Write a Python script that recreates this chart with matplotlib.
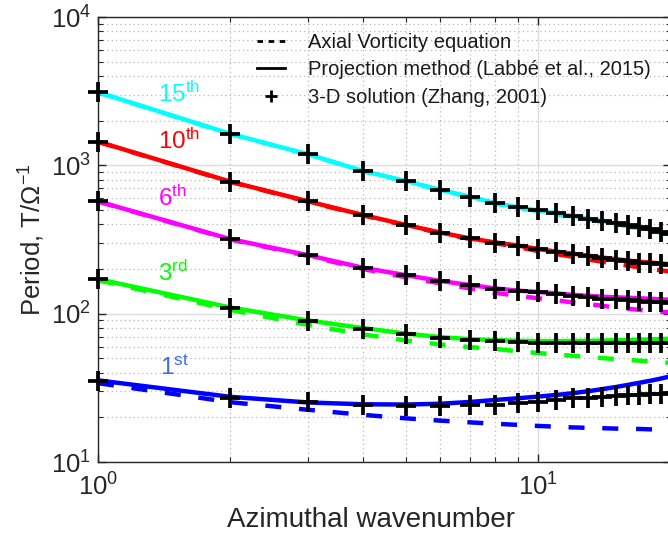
import matplotlib
matplotlib.use("Agg")
import matplotlib.pyplot as plt
from matplotlib.lines import Line2D
from matplotlib.ticker import LogLocator, NullFormatter

plt.rcParams['font.family'] = ['Liberation Sans', 'DejaVu Sans']
plt.rcParams['mathtext.fontset'] = 'custom'
plt.rcParams['mathtext.rm'] = 'Liberation Sans'
plt.rcParams['mathtext.it'] = 'Liberation Sans:italic'
plt.rcParams['mathtext.bf'] = 'Liberation Sans:bold'

# ---------------- data ----------------
m = list(range(1, 21))  # azimuthal wavenumber

# 3-D solution (Zhang, 2001)
zhang_15 = [3110, 1630, 1187, 917, 785, 683, 615, 556, 522, 497, 474, 455, 437, 421, 406, 393, 381, 370, 355, 345]
zhang_10 = [1445, 776, 572, 463, 397, 352, 322, 301, 287, 271, 259, 251, 243, 236, 230, 225, 221, 218, 215, 212]
zhang_6 = [572, 318, 248, 204, 182, 166, 156, 147, 143, 139, 135, 132, 129, 126, 125, 124, 122, 120, 119, 118]
zhang_3 = [171, 109, 89, 79, 72.6, 68.3, 66.2, 65.6, 64.7, 63.8, 63.5, 63.3, 63.2, 63.2, 63.2, 63.2, 63.2, 63.3, 63.4, 63.5]
zhang_1 = [35.2, 27.2, 25.5, 24.2, 24.0, 24.0, 24.3, 24.4, 24.9, 25.5, 26.2, 26.8, 27.2, 27.6, 27.9, 28.2, 28.5, 28.7, 28.9, 29.1]

# Projection method (Labbe et al., 2015)
proj_15 = [3110, 1630, 1187, 917, 785, 683, 615, 556, 522, 497, 474, 455, 437, 421, 406, 393, 381, 370, 357, 347]
proj_10 = [1445, 776, 572, 463, 397, 352, 322, 302, 288, 273, 262, 254, 246, 239, 233, 228, 224, 221, 218, 215]
proj_6 = [572, 318, 248, 204, 182, 166, 156, 148, 143, 140, 137, 134, 132, 130, 129, 128, 127, 126, 125, 124]
proj_3 = [171, 110, 90, 80, 73.5, 69.5, 67.3, 66.3, 65.6, 65.3, 65.3, 65.4, 65.6, 65.8, 66.1, 66.4, 66.7, 67.0, 67.4, 67.8]
proj_1 = [35.5, 27.5, 25.2, 24.5, 24.4, 24.7, 25.4, 26.2, 26.9, 27.6, 28.3, 29.1, 30.0, 31.0, 32.0, 33.1, 34.2, 35.3, 36.5, 37.8]

# Axial vorticity equation
axial_15 = [3100, 1625, 1183, 913, 780, 678, 610, 551, 517, 491, 468, 449, 431, 415, 400, 387, 375, 364, 352, 342]
axial_10 = [1440, 773, 569, 460, 394, 349, 319, 298, 282, 264, 252, 242, 232, 224, 217, 211, 205, 200, 196, 192]
axial_6 = [570, 316, 245, 200, 176, 160, 148, 138, 132, 127, 123, 119, 116, 113, 110, 108, 106, 104, 103, 102]
axial_3 = [168, 106, 84, 72.5, 66, 62, 59.5, 57.8, 55.8, 54.3, 53, 52, 51, 50.2, 49.4, 48.8, 48.2, 47.6, 47.1, 46.6]
axial_1 = [34.0, 25.3, 22.5, 20.8, 19.7, 19.0, 18.5, 18.1, 17.8, 17.5, 17.3, 17.1, 17.0, 16.9, 16.8, 16.7, 16.7, 16.6, 16.6, 16.5]

mode_labels = ['15$^{\\mathdefault{th}}$', '10$^{\\mathdefault{th}}$', '6$^{\\mathdefault{th}}$',
               '3$^{\\mathdefault{rd}}$', '1$^{\\mathdefault{st}}$']
label_pos = [(1.37, 3020), (1.37, 1450), (1.37, 600), (1.37, 188), (1.38, 43)]
line_colors = ['#00ffff', '#ff0000', '#ff00ff', '#00ff00', '#0000ff']
text_colors = ['#00ffff', '#ff0000', '#ff00ff', '#00ff00', '#3a6cf4']

legend_labels = ['Axial Vorticity equation', 'Projection method (Labbé et al., 2015)',
                 '3-D solution (Zhang, 2001)']
xlabel = 'Azimuthal wavenumber'
ylabel = 'Period, T/Ω$^{\\mathdefault{-1}}$'

# ---------------- figure ----------------
W, H = 668, 538
fig = plt.figure(figsize=(W / 100, H / 100), dpi=100)
ax = fig.add_axes([98 / W, (H - 462) / H, 572.5 / W, (462 - 17) / H])
ax.set_xscale('log')
ax.set_yscale('log')
ax.set_xlim(1, 20)
ax.set_ylim(10, 1e4)

# grids
ax.grid(True, which='major', color='#dcdcdc', linestyle='-', linewidth=1.0)
ax.grid(True, which='minor', color='#b8b8b8', linestyle=(0, (1, 2.5)), linewidth=0.9)
ax.set_axisbelow(True)

dash = (0, (3.6, 4.0))
solids = [proj_15, proj_10, proj_6, proj_3, proj_1]
dashed = [axial_15, axial_10, axial_6, axial_3, axial_1]
pts = [zhang_15, zhang_10, zhang_6, zhang_3, zhang_1]

for s, c in zip(solids, line_colors):
    ax.plot(m, s, color=c, lw=3.2, solid_capstyle='butt', zorder=3)
for d, c in zip(dashed, line_colors):
    ax.plot(m, d, color=c, lw=3.2, linestyle=dash, dash_capstyle='butt', zorder=3)
for p in pts:
    ax.plot(m, p, linestyle='none', marker='+', color='black', markersize=14,
            markeredgewidth=2.7, zorder=4, clip_on=False)

for lab, (xx, yy), tc in zip(mode_labels, label_pos, text_colors):
    ax.text(xx, yy, lab, color=tc, fontsize=17.5, ha='left', va='center', zorder=5)

# legend
handles = [Line2D([], [], color='black', lw=2.0, linestyle=(0, (2.0, 2.0))),
           Line2D([], [], color='black', lw=2.0),
           Line2D([], [], color='black', linestyle='none', marker='+', markersize=9,
                  markeredgewidth=2.0)]
leg = ax.legend(handles, legend_labels, loc='upper left',
                bbox_to_anchor=((257 - 98) / 572.5, (462 - 33) / 445),
                frameon=False, fontsize=14.5, handlelength=1.4, handletextpad=1.15,
                labelspacing=0.42, borderpad=0, borderaxespad=0)
for t in leg.get_texts():
    t.set_color('#1a1a1a')

# ticks
ax.xaxis.set_minor_locator(LogLocator(base=10, subs=range(2, 10)))
ax.yaxis.set_minor_locator(LogLocator(base=10, subs=range(2, 10)))
ax.xaxis.set_minor_formatter(NullFormatter())
ax.yaxis.set_minor_formatter(NullFormatter())
ax.tick_params(which='both', direction='in', top=True, right=True, colors='#262626')
ax.tick_params(which='major', length=6, width=1.0, labelsize=18.5)
ax.tick_params(which='minor', length=3.5, width=0.8)
ax.tick_params(axis='x', pad=8)
ax.tick_params(axis='y', pad=5)
for sp in ax.spines.values():
    sp.set_color('#262626')
    sp.set_linewidth(1.0)

ax.set_xlabel(xlabel, fontsize=20, color='#262626')
ax.xaxis.label.set_va('baseline')
ax.xaxis.set_label_coords((371 - 98) / 572.5, (462 - 527) / 445)
ax.set_ylabel(ylabel, fontsize=18.5, color='#262626', labelpad=3)

fig.savefig('out.png', dpi=100)
